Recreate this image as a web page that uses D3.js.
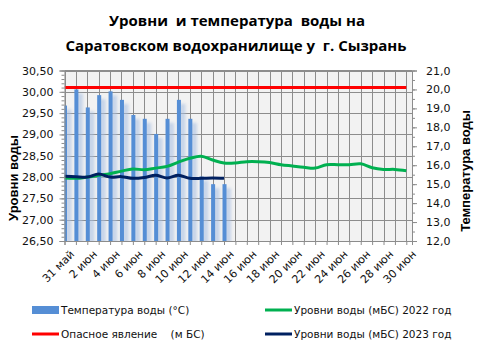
<!DOCTYPE html>
<html>
<head>
<meta charset="utf-8">
<script src="https://cdn.jsdelivr.net/npm/d3@7"></script>
<style>
  body { margin: 0; background: #fff; }
  svg { display: block; }
</style>
</head>
<body>
<svg id="chart" width="477" height="351"></svg>
<script>
// даты (31 май .. 30 июн)
const days = ["31 май","1 июн","2 июн","3 июн","4 июн","5 июн","6 июн","7 июн","8 июн","9 июн",
  "10 июн","11 июн","12 июн","13 июн","14 июн","15 июн","16 июн","17 июн","18 июн","19 июн",
  "20 июн","21 июн","22 июн","23 июн","24 июн","25 июн","26 июн","27 июн","28 июн","29 июн","30 июн"]

// температура воды, °C (правая ось)
const temp = [19.15, 20.0, 19.05, 19.7, 19.9, 19.45, 18.65, 18.45, 17.65, 18.45, 19.45, 18.45, 15.4, 15.0, 15.0]

// уровни воды, мБС
const level2022 = [27.98, 27.97, 28.0, 28.04, 28.08, 28.14, 28.19, 28.17, 28.21, 28.25, 28.35, 28.44, 28.49, 28.4, 28.33,
  28.33, 28.36, 28.36, 28.34, 28.29, 28.26, 28.23, 28.21, 28.29, 28.29, 28.29, 28.31, 28.22, 28.18, 28.18, 28.15]
const level2023 = [28.02, 28.01, 28.0, 28.07, 28.0, 28.01, 27.97, 27.99, 28.04, 27.98, 28.04, 27.97, 27.97, 27.98, 27.97]
const danger = days.map(() => 30.1)

const leftTicks = [26.5, 27, 27.5, 28, 28.5, 29, 29.5, 30, 30.5]
const rightTicks = [12, 13, 14, 15, 16, 17, 18, 19, 20, 21]

const svg = d3.select("#chart")
const pLeft = 64.5, pRight = 412, pTop = 70.5, pBottom = 241

const x = d3.scaleLinear().domain([0, 30.5]).range([pLeft, pRight])
const yL = d3.scaleLinear().domain([26.5, 30.5]).range([pBottom, pTop])
const yR = d3.scaleLinear().domain([12, 21]).range([pBottom, pTop])

const defs = svg.append("defs")
defs.append("clipPath").attr("id", "plotClip")
  .append("rect").attr("x", pLeft).attr("y", pTop).attr("width", pRight - pLeft).attr("height", pBottom - pTop)
defs.append("filter").attr("id", "blur").attr("x", "-100%").attr("width", "300%")
  .append("feGaussianBlur").attr("stdDeviation", 1.8)

// фон
svg.append("rect").attr("x", pLeft).attr("y", pTop).attr("width", pRight - pLeft).attr("height", pBottom - pTop)
  .attr("fill", "#f2f2f2")

// сетка
svg.append("g").selectAll("line").data(leftTicks).join("line")
  .attr("x1", pLeft).attr("x2", pRight)
  .attr("y1", d => Math.round(yL(d)) + 0.5).attr("y2", d => Math.round(yL(d)) + 0.5)
  .attr("stroke", "#8c8c8c")
svg.append("g").selectAll("line").data(d3.range(days.length)).join("line")
  .attr("x1", d => Math.round(x(d)) + 0.5).attr("x2", d => Math.round(x(d)) + 0.5)
  .attr("y1", pTop).attr("y2", pBottom)
  .attr("stroke", "#8c8c8c")

const plot = svg.append("g").attr("clip-path", "url(#plotClip)")

// столбики температуры (с тенью)
plot.append("g").selectAll("rect").data(temp).join("rect")
  .attr("x", (d, i) => x(i) + 1).attr("width", 6)
  .attr("y", d => yR(d) + 4).attr("height", d => pBottom - yR(d))
  .attr("fill", "#a9c0e2").attr("opacity", 0.6).attr("filter", "url(#blur)")
plot.append("g").selectAll("rect").data(temp).join("rect")
  .attr("x", (d, i) => x(i) - 1.5).attr("width", 4)
  .attr("y", d => yR(d)).attr("height", d => pBottom - yR(d))
  .attr("fill", "#558ed5")

const line = d3.line().x((d, i) => x(i)).y(d => yL(d)).curve(d3.curveCatmullRom)

plot.append("path").datum(danger).attr("d", line)
  .attr("fill", "none").attr("stroke", "#ff0000").attr("stroke-width", 3)
plot.append("path").datum(level2022).attr("d", line)
  .attr("fill", "none").attr("stroke", "#00b050").attr("stroke-width", 3)
plot.append("path").datum(level2023).attr("d", line)
  .attr("fill", "none").attr("stroke", "#002060").attr("stroke-width", 3)

// оси
const axisFont = "DejaVu Sans, sans-serif"

const gL = svg.append("g").attr("transform", `translate(${pLeft},0)`)
  .call(d3.axisLeft(yL).tickValues(leftTicks).tickFormat(d => d3.format(".2f")(d).replace(".", ",")).tickSize(5).tickPadding(6))
const gLm = svg.append("g").attr("transform", `translate(${pLeft},0)`)
  .call(d3.axisLeft(yL).tickValues(d3.range(26.5, 30.51, 0.1)).tickFormat("").tickSize(3))

const gR = svg.append("g").attr("transform", `translate(${pRight},0)`)
  .call(d3.axisRight(yR).tickValues(rightTicks).tickFormat(d => d3.format(".1f")(d).replace(".", ",")).tickSize(5).tickPadding(9))
const gRm = svg.append("g").attr("transform", `translate(${pRight},0)`)
  .call(d3.axisRight(yR).tickValues(d3.range(12, 21.01, 0.5)).tickFormat("").tickSize(3))

const gX = svg.append("g").attr("transform", `translate(0,${pBottom})`)
  .call(d3.axisBottom(x).tickValues(d3.range(days.length))
    .tickFormat(i => i % 2 === 0 ? days[i] : "").tickSize(4).tickPadding(2))
gX.selectAll("text")
  .attr("text-anchor", "end")
  .attr("transform", "translate(3,7) rotate(-45)")
  .attr("dy", "0.35em")

for (const g of [gL, gLm, gR, gRm, gX]) {
  g.select(".domain").attr("stroke", "#8c8c8c")
  g.selectAll(".tick line").attr("stroke", "#8c8c8c")
  g.selectAll("text").attr("font-family", axisFont).attr("font-size", 11).attr("fill", "#111")
}
gLm.select(".domain").remove()
gRm.select(".domain").remove()
// верхняя граница
svg.append("line").attr("x1", pLeft).attr("x2", pRight).attr("y1", pTop).attr("y2", pTop).attr("stroke", "#8c8c8c")

// заголовок
const title = svg.append("text").attr("text-anchor", "middle")
  .attr("font-family", "Open Sans, sans-serif").attr("font-weight", "bold").attr("font-size", 15).attr("fill", "#000")
  .style("white-space", "pre")
title.append("tspan").attr("x", 237).attr("y", 26).text("Уровни  и температура  воды на")
title.append("tspan").attr("x", 236).attr("y", 51).text("Саратовском водохранилище у  г. Сызрань")

// подписи осей
svg.append("text").attr("transform", "translate(18,178) rotate(-90)").attr("text-anchor", "middle")
  .attr("font-family", "Liberation Sans, sans-serif").attr("font-weight", "bold").attr("font-size", 13)
  .text("Уровни воды")
svg.append("text").attr("transform", "translate(470,171) rotate(-90)").attr("text-anchor", "middle")
  .attr("font-family", "Liberation Sans, sans-serif").attr("font-weight", "bold").attr("font-size", 13)
  .text("Температура воды")

// легенда
const legend = [
  { label: "Температура воды (°С)", color: "#558ed5", type: "bar", lx: 32, ly: 310 },
  { label: "Опасное явление    (м БС)", color: "#ff0000", type: "line", lx: 32, ly: 334 },
  { label: "Уровни воды (мБС) 2022 год", color: "#00b050", type: "line", lx: 265, ly: 310 },
  { label: "Уровни воды (мБС) 2023 год", color: "#002060", type: "line", lx: 265, ly: 334 }
]
const lg = svg.append("g").selectAll("g").data(legend).join("g")
  .attr("transform", d => `translate(${d.lx},${d.ly})`)
lg.filter(d => d.type === "bar").append("rect")
  .attr("x", 0).attr("y", -4).attr("width", 27).attr("height", 8).attr("fill", d => d.color)
lg.filter(d => d.type === "line").append("line")
  .attr("x1", 0).attr("x2", 27).attr("stroke", d => d.color).attr("stroke-width", 3)
lg.append("text").attr("x", 29).attr("dy", "0.35em")
  .attr("font-family", axisFont).attr("font-size", 10.5).attr("fill", "#111")
  .style("white-space", "pre")
  .text(d => d.label)
</script>
</body>
</html>
